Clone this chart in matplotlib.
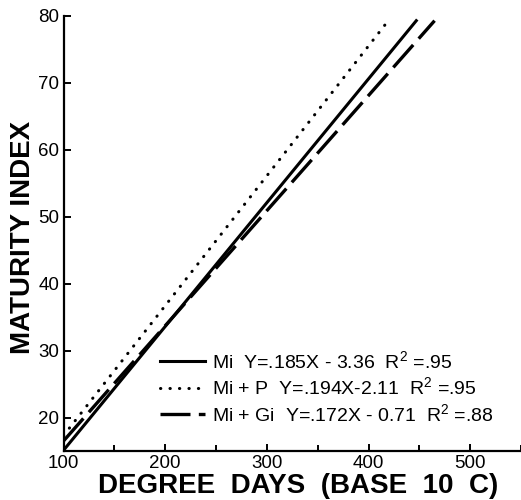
import matplotlib
matplotlib.use("Agg")
import matplotlib.pyplot as plt
from matplotlib.ticker import MultipleLocator

# ---- data (endpoints of fitted regression lines) ----
series = ["Mi", "Mi + P", "Mi + Gi"]
equations = ["Y=.185X - 3.36", "Y=.194X-2.11", "Y=.172X - 0.71"]
r2_labels = ["=.95", "=.95", "=.88"]
x_start = [100, 100, 100]
x_end = [447, 421, 465]
y_start = [15.1, 17.3, 16.5]
y_end = [79.3, 79.6, 79.3]
x_ticks = [100, 200, 300, 400, 500]
y_ticks = [20, 30, 40, 50, 60, 70, 80]

styles = [
    dict(linestyle="-", linewidth=2.2),
    dict(linestyle=(0, (0.1, 3.0)), linewidth=2.2, dash_capstyle="round"),
    dict(linestyle=(0, (9, 2.5)), linewidth=2.4),
]

plt.rcParams["font.family"] = ["Liberation Sans", "DejaVu Sans"]
plt.rcParams["mathtext.fontset"] = "custom"
plt.rcParams["mathtext.rm"] = "Liberation Sans"
plt.rcParams["mathtext.it"] = "Liberation Sans"
plt.rcParams["mathtext.bf"] = "Liberation Sans:bold"

fig = plt.figure(figsize=(5.21, 5.0), dpi=100)
ax = fig.add_axes([63.5 / 521, 49 / 500, (521 - 63.5) / 521, 435 / 500])

handles = []
for i in range(len(series)):
    (h,) = ax.plot([x_start[i], x_end[i]], [y_start[i], y_end[i]],
                   color="black", **styles[i])
    handles.append(h)

ax.set_xlim(100, 550)
ax.set_ylim(15, 80)
ax.set_xticks(x_ticks)
ax.xaxis.set_minor_locator(MultipleLocator(50))
ax.set_yticks(y_ticks)

for s in ["top", "right"]:
    ax.spines[s].set_visible(False)
for s in ["left", "bottom"]:
    ax.spines[s].set_linewidth(1.6)

ax.tick_params(axis="both", which="both", direction="in", width=1.4,
               labelsize=13.5, pad=3)
ax.tick_params(axis="both", which="major", length=5)
ax.tick_params(axis="x", which="minor", length=4)

ax.set_xlabel("DEGREE  DAYS  (BASE  10  C)", fontsize=20, fontweight="bold")
ax.xaxis.set_label_coords(0.513, -0.051)
ax.set_ylabel("MATURITY INDEX", fontsize=20, fontweight="bold")
ax.yaxis.set_label_coords(-0.06, 0.49)

labels = [f"{s}  {e}  R$^{{2}}$ {r}" for s, e, r in zip(series, equations, r2_labels)]
leg = ax.legend(handles, labels, loc="lower left",
                bbox_to_anchor=(0.211, 0.06), frameon=False, fontsize=14,
                handlelength=2.3, handletextpad=0.36, labelspacing=0.23,
                borderaxespad=0, borderpad=0)

fig.savefig("out.png", dpi=100)
